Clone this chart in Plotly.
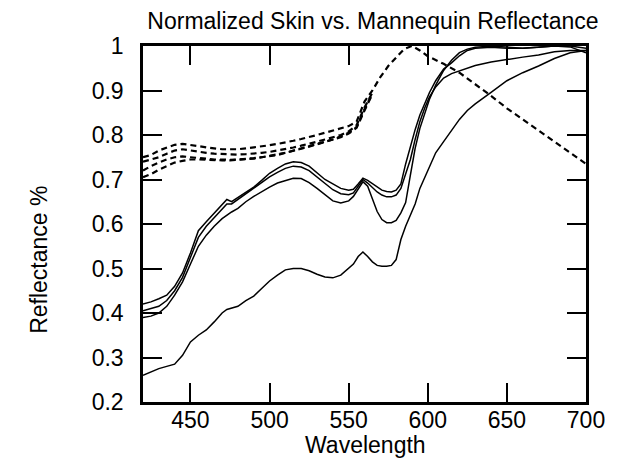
import plotly.graph_objects as go

# ---- data ----
WL = [420, 425, 430, 435, 440, 445, 450, 455, 460, 465, 470, 473, 476, 480, 485, 490, 495,
      500, 505, 510, 515, 520, 525, 530, 535, 540, 545, 550, 553, 556, 559, 562, 565, 568,
      571, 574, 577, 580, 583, 586, 589, 592, 595, 598, 601, 605, 610, 615, 620, 625, 630,
      640, 650, 660, 670, 680, 690, 700]

skin1 = [0.42, 0.425, 0.432, 0.44, 0.46, 0.49, 0.535, 0.585, 0.605, 0.625, 0.645, 0.655, 0.65,
         0.66, 0.672, 0.683, 0.698, 0.714, 0.725, 0.735, 0.74, 0.738, 0.73, 0.715, 0.70, 0.69,
         0.68, 0.676, 0.678, 0.69, 0.703, 0.698, 0.69, 0.682, 0.676, 0.673, 0.672, 0.676, 0.69,
         0.735, 0.775, 0.812, 0.845, 0.872, 0.895, 0.922, 0.948, 0.962, 0.978, 0.99, 0.995,
         0.997, 0.995, 0.995, 0.998, 1.0, 1.0, 0.995]

skin2 = [0.405, 0.41, 0.415, 0.428, 0.45, 0.48, 0.525, 0.57, 0.595, 0.615, 0.635, 0.645, 0.645,
         0.655, 0.668, 0.68, 0.693, 0.706, 0.716, 0.725, 0.73, 0.728, 0.72, 0.705, 0.69, 0.677,
         0.668, 0.666, 0.67, 0.685, 0.70, 0.692, 0.682, 0.672, 0.665, 0.661, 0.661, 0.665, 0.68,
         0.714, 0.745, 0.79, 0.83, 0.86, 0.885, 0.908, 0.928, 0.938, 0.944, 0.95, 0.956,
         0.964, 0.97, 0.975, 0.98, 0.987, 0.99, 0.99]

skin3 = [0.39, 0.393, 0.40, 0.415, 0.44, 0.47, 0.51, 0.55, 0.575, 0.595, 0.612, 0.62, 0.627,
         0.635, 0.65, 0.662, 0.673, 0.683, 0.692, 0.698, 0.703, 0.702, 0.693, 0.68, 0.665, 0.652,
         0.647, 0.652, 0.662, 0.68, 0.695, 0.685, 0.655, 0.628, 0.61, 0.603, 0.603, 0.608, 0.625,
         0.648, 0.71, 0.77, 0.815, 0.85, 0.88, 0.912, 0.945, 0.968, 0.985, 0.993, 0.997,
         1.0, 0.998, 0.995, 0.997, 1.0, 0.998, 0.985]

skin4 = [0.26, 0.268, 0.275, 0.28, 0.285, 0.305, 0.335, 0.35, 0.362, 0.38, 0.40, 0.408, 0.411,
         0.415, 0.428, 0.438, 0.455, 0.472, 0.485, 0.497, 0.50, 0.50, 0.495, 0.487, 0.481, 0.479,
         0.485, 0.50, 0.51, 0.527, 0.537, 0.527, 0.515, 0.507, 0.505, 0.505, 0.507, 0.52, 0.565,
         0.595, 0.62, 0.645, 0.68, 0.705, 0.73, 0.76, 0.785, 0.81, 0.835, 0.855, 0.87,
         0.896, 0.922, 0.94, 0.955, 0.972, 0.985, 0.99]

# Mannequin curves: the first one covers the full range; the others merge into it
# above ~565 nm, so they are listed only up to that point.
MWL = [420, 425, 430, 435, 440, 445, 450, 455, 460, 465, 470, 475, 480, 485, 490, 495, 500,
       505, 510, 515, 520, 525, 530, 535, 540, 545, 550, 555, 560, 565, 570, 575, 580, 585,
       590, 595, 600, 610, 620, 630, 640, 650, 660, 670, 680, 690, 700]

mann1 = [0.75, 0.755, 0.765, 0.772, 0.778, 0.78, 0.778, 0.775, 0.772, 0.77, 0.768, 0.768, 0.768,
         0.77, 0.772, 0.775, 0.777, 0.78, 0.783, 0.787, 0.791, 0.795, 0.80, 0.805, 0.81, 0.815,
         0.82, 0.83, 0.875, 0.90, 0.93, 0.955, 0.975, 0.993, 1.0, 0.99, 0.977, 0.96, 0.94, 0.915,
         0.888, 0.86, 0.835, 0.81, 0.785, 0.76, 0.735]

mann2 = [0.74, 0.745, 0.75, 0.758, 0.765, 0.768, 0.765, 0.762, 0.76, 0.758, 0.757, 0.756, 0.756,
         0.757, 0.758, 0.76, 0.762, 0.765, 0.768, 0.772, 0.776, 0.78, 0.785, 0.79, 0.795, 0.80,
         0.808, 0.822, 0.862, 0.895]

mann3 = [0.72, 0.73, 0.738, 0.745, 0.75, 0.752, 0.75, 0.748, 0.746, 0.745, 0.745, 0.744, 0.745,
         0.746, 0.748, 0.75, 0.753, 0.757, 0.76, 0.765, 0.77, 0.775, 0.78, 0.785, 0.79, 0.797,
         0.805, 0.818, 0.858, 0.893]

mann4 = [0.705, 0.712, 0.722, 0.73, 0.738, 0.742, 0.745, 0.745, 0.744, 0.744, 0.743, 0.743, 0.744,
         0.745, 0.747, 0.75, 0.752, 0.755, 0.76, 0.764, 0.769, 0.774, 0.779, 0.784, 0.789, 0.795,
         0.803, 0.816, 0.855, 0.892]

XTICKS = [450, 500, 550, 600, 650, 700]
YTICKS = [0.2, 0.3, 0.4, 0.5, 0.6, 0.7, 0.8, 0.9, 1.0]
YTICKTEXT = ["0.2", "0.3", "0.4", "0.5", "0.6", "0.7", "0.8", "0.9", "1"]

TITLE = "Normalized Skin vs. Mannequin Reflectance"
XLABEL = "Wavelength"
YLABEL = "Reflectance %"

# ---- figure ----
FONT = "Liberation Sans, Arial, Helvetica, sans-serif"
FS = 23
fig = go.Figure()

for m in [mann1, mann2, mann3, mann4]:
    fig.add_trace(go.Scatter(x=MWL[:len(m)], y=m, mode="lines",
                             line=dict(color="black", width=2.2, dash="6px,4px"),
                             showlegend=False, hoverinfo="skip"))
for s in [skin1, skin2, skin3, skin4]:
    fig.add_trace(go.Scatter(x=WL, y=s, mode="lines",
                             line=dict(color="black", width=1.5),
                             showlegend=False, hoverinfo="skip"))

axis_common = dict(showline=True, linecolor="black", linewidth=2.5, mirror="ticks",
                   ticks="inside", ticklen=19, tickwidth=2, tickcolor="black",
                   showgrid=False, zeroline=False, ticklabeloverflow="allow",
                   tickfont=dict(family=FONT, size=FS, color="black"))

fig.update_xaxes(range=[420, 700], tickvals=XTICKS, ticklabelstandoff=-4, **axis_common)
fig.update_yaxes(range=[0.2, 1.0], tickvals=YTICKS, ticktext=YTICKTEXT,
                 ticklabelstandoff=12, **axis_common)

fig.update_layout(
    width=617, height=460,
    margin=dict(l=143, r=19, t=46, b=58),
    paper_bgcolor="white", plot_bgcolor="white",
    font=dict(family=FONT, size=FS, color="black"),
    title=dict(text=TITLE, x=373 / 617, xref="container", xanchor="center",
               y=1 - 21 / 460, yref="container", yanchor="middle",
               font=dict(family=FONT, size=FS, color="black")),
    annotations=[
        dict(text=XLABEL, xref="paper", yref="paper", x=(372 - 143) / 455,
             y=(402 - 445) / 356, xanchor="center", yanchor="middle",
             showarrow=False, font=dict(family=FONT, size=FS, color="black")),
        dict(text=YLABEL, xref="paper", yref="paper", x=(36 - 143) / 455,
             y=(402 - 260) / 356, xanchor="center", yanchor="middle", textangle=-90,
             showarrow=False, font=dict(family=FONT, size=FS, color="black")),
    ],
)

fig.write_html("out.html")
